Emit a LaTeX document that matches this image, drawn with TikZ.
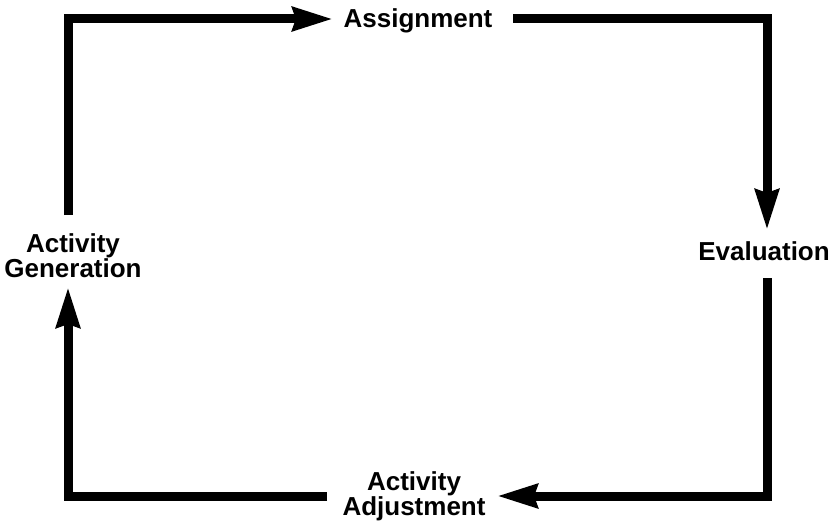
\documentclass[tikz,border=0pt]{standalone}
\usepackage{fontspec}
\setmainfont{Liberation Sans}
\usetikzlibrary{arrows.meta}
\tikzset{
  lbl/.style={font=\bfseries\fontsize{26pt}{25pt}\selectfont, inner sep=0pt, align=center},
  flow/.style={line width=9pt, line join=miter, line cap=butt,
    -{Stealth[length=40pt,width=23pt,inset=3pt]}},
}
\begin{document}
\begin{tikzpicture}[x=1pt,y=-1pt]
\useasboundingbox (0,0) rectangle (835,524);
% stage labels
\node[lbl] (asg) at (418,21) {Assignment};
\node[lbl] (eva) at (764,251) {Evaluation};
\node[lbl] (adj) at (414,496) {Activity\\Adjustment};
\node[lbl] (gen) at (73,256) {Activity\\Generation};
% corners of the cycle and the gaps around each label
\coordinate (c1) at (68,19);
\coordinate (c2) at (767,19);
\coordinate (c3) at (767,496);
\coordinate (c4) at (68,496);
\coordinate (genout) at (68,215);
\coordinate (asgin) at (333,19);
\coordinate (asgout) at (513,19);
\coordinate (evain) at (767,230);
\coordinate (evaout) at (767,278);
\coordinate (adjin) at (497,496);
\coordinate (adjout) at (327,496);
\coordinate (genin) at (68,287);
% the cycle
\draw[flow] (genout) -- (c1) -- (asgin);
\draw[flow] (asgout) -- (c2) -- (evain);
\draw[flow] (evaout) -- (c3) -- (adjin);
\draw[flow] (adjout) -- (c4) -- (genin);
\end{tikzpicture}
\end{document}
